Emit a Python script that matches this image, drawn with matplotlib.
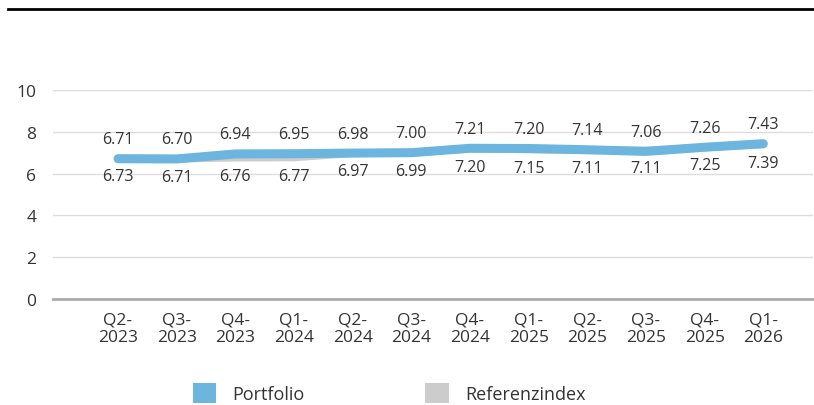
import matplotlib.pyplot as plt
from matplotlib.lines import Line2D
from matplotlib.patches import Patch

plt.rcParams['font.family'] = ['Open Sans', 'DejaVu Sans']

quarters = ['Q2-\n2023', 'Q3-\n2023', 'Q4-\n2023', 'Q1-\n2024', 'Q2-\n2024', 'Q3-\n2024',
            'Q4-\n2024', 'Q1-\n2025', 'Q2-\n2025', 'Q3-\n2025', 'Q4-\n2025', 'Q1-\n2026']
portfolio = [6.71, 6.70, 6.94, 6.95, 6.98, 7.00, 7.21, 7.20, 7.14, 7.06, 7.26, 7.43]
referenz = [6.73, 6.71, 6.76, 6.77, 6.97, 6.99, 7.20, 7.15, 7.11, 7.11, 7.25, 7.39]

blue = '#6BB5DE'
grey = '#CCCCCC'
text_col = '#333333'

fig = plt.figure(figsize=(8.14, 4.06), dpi=100)
ax = fig.add_axes([0.065, 0.261, 0.934, 0.515])

x = list(range(len(quarters)))
ax.plot(x, referenz, color=grey, lw=5.5, solid_capstyle='round', solid_joinstyle='round', zorder=2)
ax.plot(x, portfolio, color=blue, lw=6.5, solid_capstyle='round', solid_joinstyle='round', zorder=3)

for i in x:
    ax.annotate(f'{portfolio[i]:.2f}', (i, portfolio[i]), xytext=(0, 14), textcoords='offset points',
                ha='center', va='center', fontsize=11.5, color=text_col, zorder=4)
    ax.annotate(f'{referenz[i]:.2f}', (i, referenz[i]), xytext=(0, -13), textcoords='offset points',
                ha='center', va='center', fontsize=11.5, color=text_col, zorder=4)

ax.set_xlim(-1.11, 11.85)
ax.set_ylim(0, 10)
ax.set_yticks([0, 2, 4, 6, 8, 10])
ax.set_xticks(x)
ax.set_xticklabels(quarters, fontsize=12.5, color=text_col, linespacing=1.15)
ax.tick_params(axis='y', labelsize=12.5, colors=text_col, length=0, pad=12)
ax.tick_params(axis='x', length=0, pad=9)
ax.grid(axis='y', color='#DDDDDD', lw=1)
ax.set_axisbelow(True)
for s in ['top', 'right', 'left']:
    ax.spines[s].set_visible(False)
ax.spines['bottom'].set_color('#AAAAAA')
ax.spines['bottom'].set_linewidth(2)

fig.add_artist(Line2D([8 / 814, 1], [1 - 10 / 406, 1 - 10 / 406], color='black', lw=2,
                      transform=fig.transFigure))

handles = [Patch(facecolor=blue, edgecolor='none'), Patch(facecolor=grey, edgecolor='none')]
fig.legend(handles, ['Portfolio', 'Referenzindex'], loc='center', bbox_to_anchor=(0.478, 0.03),
           ncol=2, frameon=False, fontsize=13, handlelength=1.3, handleheight=1.3,
           handletextpad=0.9, columnspacing=6.7, labelcolor=text_col)

fig.savefig('out.png', dpi=100)
